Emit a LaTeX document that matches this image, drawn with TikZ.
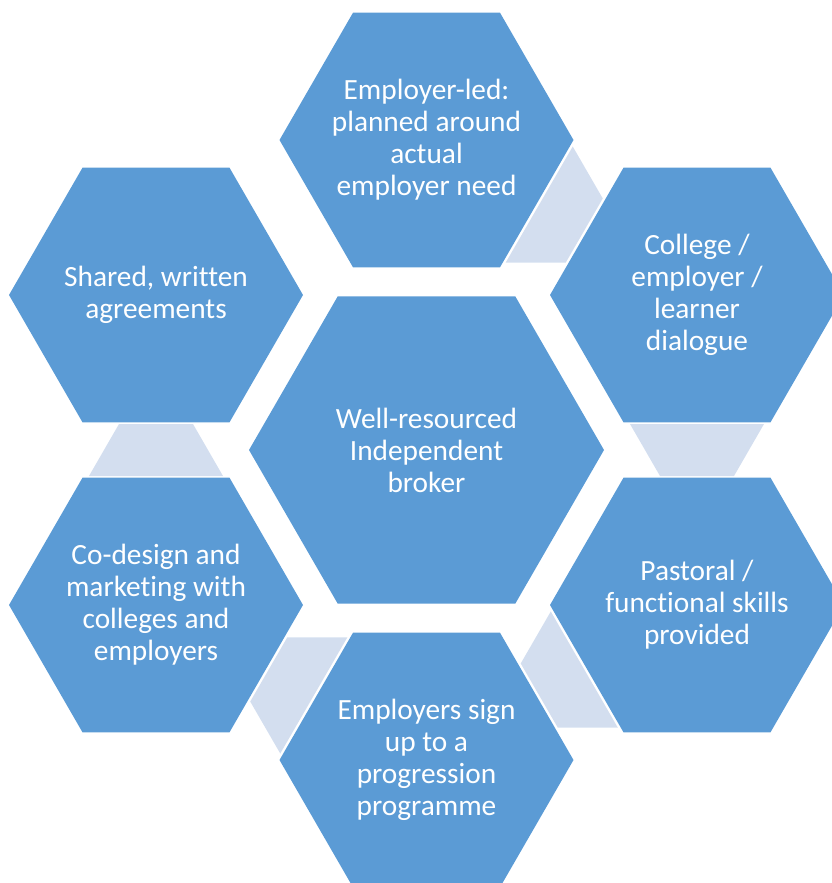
\documentclass[tikz,border=0pt]{standalone}
\usepackage{fontspec}
\setmainfont[Ligatures=NoCommon]{Carlito}
\usetikzlibrary{calc}
\definecolor{hexblue}{RGB}{91,155,213}
\definecolor{linkgrey}{RGB}{211,222,239}
\tikzset{celltext/.style={text=white, align=center, inner sep=0pt, font=\fontsize{22}{24}\selectfont}}
% hexagon with its label: name, centre, radius, text
\newcommand{\hexcell}[4]{
    \fill[hexblue] (#2) +(0:#3) -- +(60:#3) -- +(120:#3) -- +(180:#3) -- +(240:#3) -- +(300:#3) -- cycle;
    \node[celltext] (#1) at (#2) {#4};
}
% trapezoid in the gap between two cells, narrow side towards the second one
\newcommand{\cellgap}[3]{
    \fill[linkgrey, shift={($(#1)!.5!(#2)$)}, rotate=#3] (-67,-26) -- (67,-26) -- (37,26) -- (-37,26) -- cycle;
}

\begin{document}
\begin{tikzpicture}[x=0.75pt, y=-0.75pt]
\useasboundingbox (0,0) rectangle (832,883);
\hexcell{broker}{426.5,450}{177.5}{Well-resourced\\Independent\\broker}
\hexcell{employer}{426.5,140}{147}{Employer-led:\\planned around\\actual\\employer need}
\hexcell{dialogue}{697,295}{147}{College /\\employer /\\learner\\dialogue}
\hexcell{pastoral}{697,605}{147}{Pastoral /\\functional skills\\provided}
\hexcell{signup}{426.5,760}{147}{Employers sign\\up to a\\progression\\programme}
\hexcell{codesign}{156,605}{147}{Co-design and\\marketing with\\colleges and\\employers}
\hexcell{agreements}{156,295}{147}{Shared, written\\agreements}
\cellgap{employer}{dialogue}{60}
\cellgap{dialogue}{pastoral}{0}
\cellgap{pastoral}{signup}{-60}
\cellgap{signup}{codesign}{-120}
\cellgap{codesign}{agreements}{180}
\end{tikzpicture}
\end{document}
